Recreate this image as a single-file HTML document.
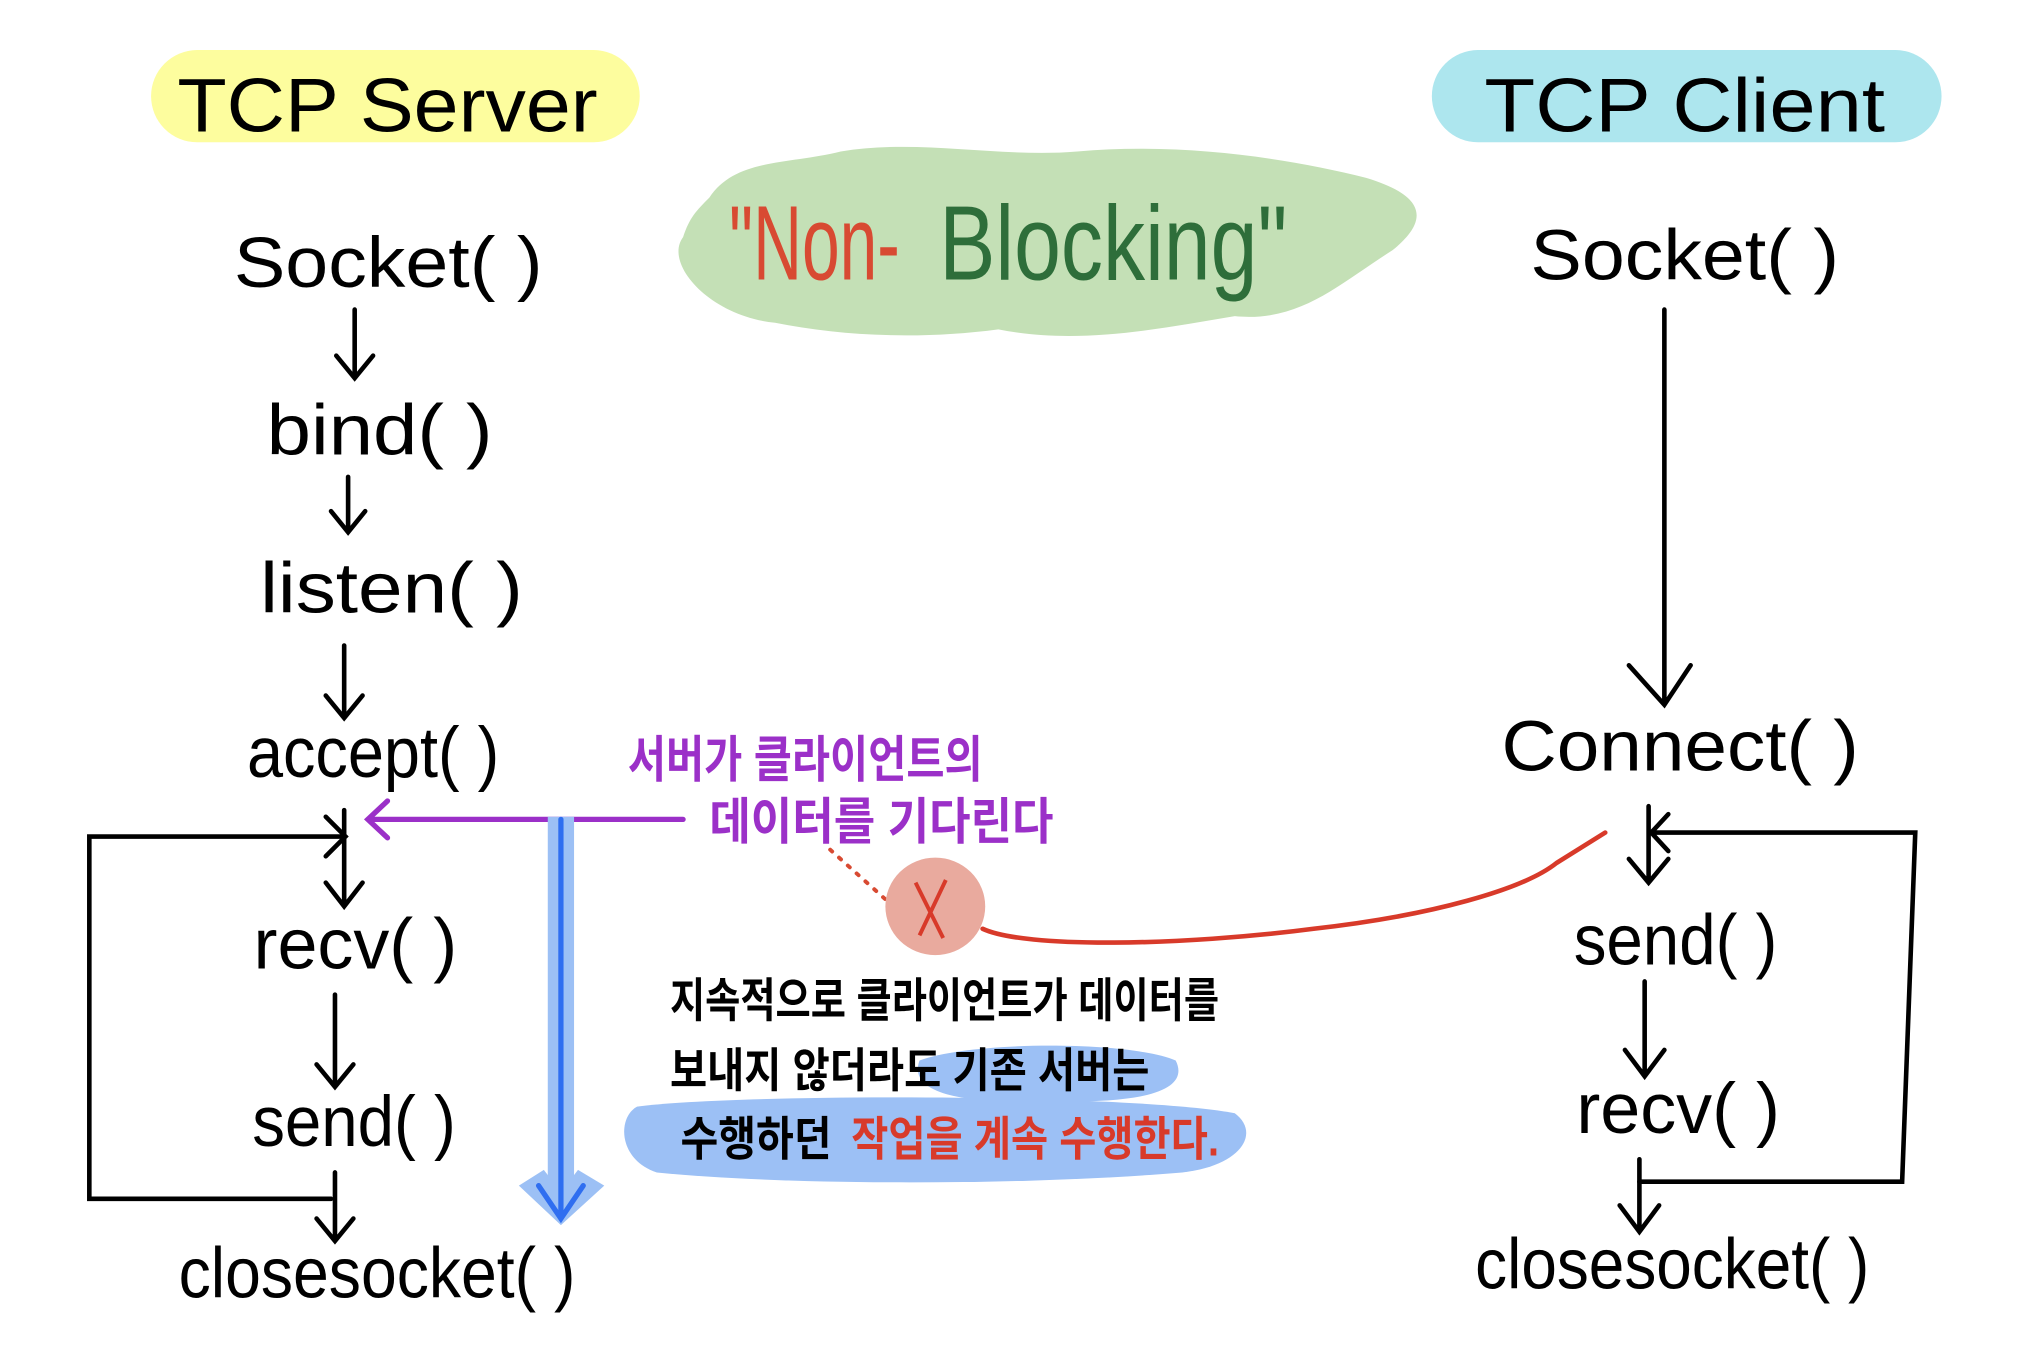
<!DOCTYPE html>
<html><head><meta charset="utf-8"><style>
html,body{margin:0;padding:0;background:#fff;}
svg{display:block;}
text{font-family:"Liberation Sans","Noto Sans CJK KR",sans-serif;}
</style></head><body>
<svg width="2044" height="1349" viewBox="0 0 1556 1024" preserveAspectRatio="none" xmlns="http://www.w3.org/2000/svg">
<!-- header pills -->
<rect x="115" y="38" width="372" height="70" rx="35" fill="#fdfd9e"/>
<text x="135" y="100" font-size="58" textLength="320" lengthAdjust="spacingAndGlyphs">TCP Server</text>
<rect x="1090" y="38" width="388" height="70" rx="35" fill="#ade6ee"/>
<text x="1130" y="100" font-size="58" textLength="305" lengthAdjust="spacingAndGlyphs">TCP Client</text>
<!-- green blob -->
<path d="M540,150 C560,120 600,125 640,115 C700,105 760,120 820,115 C900,108 980,120 1040,135 C1090,150 1085,170 1060,190 C1020,215 990,245 940,240 C880,250 820,262 760,250 C700,258 640,255 590,245 C540,240 505,200 520,180 C525,165 530,160 540,150 Z" fill="#c4e0b6"/>
<text x="555" y="212" font-size="80" fill="#d84a32" textLength="130" lengthAdjust="spacingAndGlyphs">"Non-</text>
<text x="715" y="212" font-size="80" fill="#2e6e3a" textLength="265" lengthAdjust="spacingAndGlyphs">Blocking"</text>
<!-- server column -->
<g font-size="54" fill="#000">
<text x="178" y="218" textLength="235" lengthAdjust="spacingAndGlyphs">Socket( )</text>
<text x="203" y="345" textLength="172" lengthAdjust="spacingAndGlyphs">bind( )</text>
<text x="198" y="465" textLength="200" lengthAdjust="spacingAndGlyphs">listen( )</text>
<text x="188" y="590" textLength="192" lengthAdjust="spacingAndGlyphs">accept( )</text>
<text x="193" y="735" textLength="155" lengthAdjust="spacingAndGlyphs">recv( )</text>
<text x="192" y="870" textLength="155" lengthAdjust="spacingAndGlyphs">send( )</text>
<text x="136" y="985" textLength="302" lengthAdjust="spacingAndGlyphs">closesocket( )</text>
<!-- client -->
<text x="1165" y="212" textLength="235" lengthAdjust="spacingAndGlyphs">Socket( )</text>
<text x="1143" y="585" textLength="272" lengthAdjust="spacingAndGlyphs">Connect( )</text>
<text x="1198" y="732" textLength="155" lengthAdjust="spacingAndGlyphs">send( )</text>
<text x="1200" y="860" textLength="155" lengthAdjust="spacingAndGlyphs">recv( )</text>
<text x="1123" y="978" textLength="300" lengthAdjust="spacingAndGlyphs">closesocket( )</text>
</g>
<g stroke="#000" stroke-width="3.5" fill="none" stroke-linecap="round">
<path d="M270,235 V285 M256,270 L270,287 L284,270"/>
<path d="M265,362 V402 M252,388 L265,404 L278,388"/>
<path d="M262,490 V543 M248,528 L262,545 L276,528"/>
<path d="M262,615 V686 M248,670 L262,688 L276,670"/>
<path d="M255,755 V823 M241,808 L255,825 L269,808"/>
<path d="M255,890 V940 M241,925 L255,942 L269,925"/>
<path d="M262,635 H68 V910 H252"/>
<path d="M248,620 L263,635 L248,650"/>
<path d="M1267,235 V533 M1240,505 L1267,535 L1287,505"/>
<path d="M1255,612 V668 M1240,652 L1255,670 L1270,652"/>
<path d="M1257,632 H1458 L1448,897 H1248 M1270,618 L1257,632 L1270,646"/>
<path d="M1252,745 V815 M1237,797 L1252,817 L1267,797"/>
<path d="M1248,880 V933 M1233,915 L1248,935 L1263,915"/>
</g>
<!-- purple -->
<path d="M520,622 H280 M295,608 L280,622 L295,636" stroke="#9b30c8" stroke-width="4" fill="none" stroke-linecap="round"/>
<g font-size="38" fill="#9b30c8" font-weight="bold">
<text x="478" y="590" textLength="270" lengthAdjust="spacingAndGlyphs">서버가 클라이언트의</text>
<text x="540" y="637" textLength="262" lengthAdjust="spacingAndGlyphs">데이터를 기다린다</text>
</g>
<!-- blue vertical -->
<rect x="417" y="620" width="20" height="300" fill="#9cc0f5"/>
<path d="M395,900 L427,930 L460,900 L440,888 L427,905 L414,888 Z" fill="#9cc0f5"/>
<path d="M427,622 V925 M410,900 L427,925 L444,900" stroke="#2f6ef0" stroke-width="4" fill="none" stroke-linecap="round"/>
<!-- red -->
<path d="M632,645 L680,688" stroke="#d84a32" stroke-width="3" stroke-dasharray="2,7" stroke-linecap="round"/>
<ellipse cx="712" cy="688" rx="38" ry="37" fill="#e9aa9e"/>
<path d="M697,670 L718,712 M720,668 L700,710" stroke="#d83a2a" stroke-width="3" fill="none"/>
<path d="M748,705 C780,720 900,718 1000,705 C1090,695 1160,675 1185,655 L1222,632" stroke="#d83a2a" stroke-width="3.5" fill="none" stroke-linecap="round"/>
<!-- highlights -->
<path d="M700,805 C740,790 860,790 895,805 C905,825 880,838 800,836 C740,838 690,832 700,805 Z" fill="#9cc0f5"/>
<path d="M485,840 C560,830 860,830 940,845 C960,860 945,885 900,890 C780,900 600,900 500,890 C470,880 470,848 485,840 Z" fill="#9cc0f5"/>
<g font-size="36" font-weight="bold" fill="#000">
<text x="510" y="772" textLength="418" lengthAdjust="spacingAndGlyphs">지속적으로 클라이언트가 데이터를</text>
<text x="510" y="825" textLength="365" lengthAdjust="spacingAndGlyphs">보내지 않더라도 기존 서버는</text>
<text x="518" y="877" textLength="115" lengthAdjust="spacingAndGlyphs">수행하던</text>
<text x="648" y="877" fill="#d83a2a" textLength="280" lengthAdjust="spacingAndGlyphs">작업을 계속 수행한다.</text>
</g>
</svg>
</body></html>
